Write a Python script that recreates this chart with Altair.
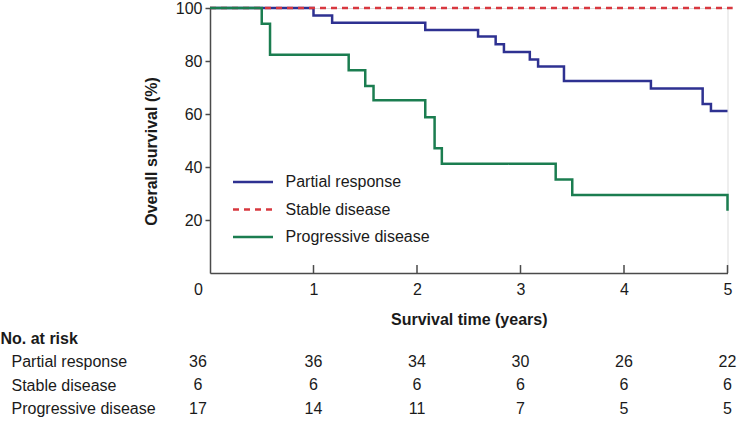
import altair as alt
import pandas as pd

# ---------------- data ----------------
groups = ["Partial response", "Stable disease", "Progressive disease"]
colors = ["#2e3191", "#d8383f", "#1b7d50"]
dashes = [[1, 0], [6, 5], [1, 0]]

pr_time = [0, 1.00, 1.18, 2.08, 2.59, 2.76, 2.84, 3.09, 3.17, 3.42, 4.26, 4.76, 4.84, 5.00]
pr_surv = [100, 97.2, 94.4, 91.7, 89.2, 86.3, 83.4, 80.6, 77.9, 72.5, 69.6, 63.8, 61.1, 61.1]

sd_time = [0, 5.05]
sd_surv = [100, 100]

pd_time = [0, 0.50, 0.58, 1.34, 1.50, 1.58, 2.08, 2.17, 2.24, 3.34, 3.50, 5.00]
pd_surv = [100, 94.1, 82.4, 76.5, 70.6, 65.2, 58.8, 47.1, 41.2, 35.3, 29.4, 23.5]

risk_times = [0, 1, 2, 3, 4, 5]
pr_risk = [36, 36, 34, 30, 26, 22]
sd_risk = [6, 6, 6, 6, 6, 6]
pd_risk = [17, 14, 11, 7, 5, 5]

x_tick_values = [1, 2, 3, 4, 5]
x_label_values = [0, 1, 2, 3, 4, 5]
y_label_values = [20, 40, 60, 80, 100]

# ---------------- tables ----------------
rows = []
for g, ts, ss in zip(groups, [pr_time, sd_time, pd_time], [pr_surv, sd_surv, pd_surv]):
    for t, s in zip(ts, ss):
        rows.append({"time": t, "surv": s, "group": g})
curves = pd.DataFrame(rows)

rrows = []
for g, ns in zip(groups, [pr_risk, sd_risk, pd_risk]):
    for t, n in zip(risk_times, ns):
        rrows.append({"time": t, "group": g, "n": n})
risk = pd.DataFrame(rrows)

ticks_df = pd.DataFrame({"t": x_tick_values})

AX = "#4a4a4a"
TXT = "#1a1a1a"
FONT = "Liberation Sans"
W = 517.5
H = 265

xscale = alt.Scale(domain=[0, 5], nice=False, zero=True)
yscale = alt.Scale(domain=[0, 100], nice=False)

legend = alt.Legend(
    title=None, orient="none", legendX=31.5, legendY=162.5,
    symbolType="M-2,0L2,0", symbolSize=400, symbolStrokeWidth=2.5,
    labelFontSize=16, labelColor=TXT, labelFont=FONT, rowPadding=7.5,
    labelOffset=21, padding=0,
)

lines = alt.Chart(curves).mark_line(interpolate="step-after", strokeWidth=2.5, clip=False).encode(
    x=alt.X("time:Q", scale=xscale, axis=alt.Axis(
        values=x_label_values, format="d", title="Survival time (years)", grid=False,
        ticks=False, tickSize=0, labelPadding=8, labelFontSize=16, labelColor=TXT,
        labelFlush=False,
        labelOffset={"condition": {"test": "datum.value === 0", "value": -12}, "value": 0},
        titleFontSize=16, titleFontWeight="bold", titleColor=TXT, titlePadding=14,
        domainColor=AX, domainWidth=1.5, labelFont=FONT, titleFont=FONT,
    )),
    y=alt.Y("surv:Q", scale=yscale, axis=alt.Axis(
        values=y_label_values, title="Overall survival (%)", grid=False,
        tickSize=5, tickColor=AX, tickWidth=1.5, labelPadding=3, labelFontSize=16,
        labelColor=TXT, titleFontSize=16, titleFontWeight="bold", titleColor=TXT,
        titlePadding=16, titleY=143, domainColor=AX, domainWidth=1.5,
        labelFont=FONT, titleFont=FONT,
    )),
    color=alt.Color("group:N", scale=alt.Scale(domain=groups, range=colors), legend=legend),
    strokeDash=alt.StrokeDash("group:N", scale=alt.Scale(domain=groups, range=dashes), legend=legend),
)

xticks = alt.Chart(ticks_df).mark_rule(color=AX, strokeWidth=1.5).encode(
    x=alt.X("t:Q", scale=xscale),
    y=alt.datum(0),
    y2=alt.datum(3),
)

top = alt.layer(xticks, lines).properties(width=W, height=H)

base = alt.Chart(risk).encode(
    x=alt.X("time:Q", scale=xscale, axis=None),
    y=alt.Y("group:N", sort=groups, scale=alt.Scale(paddingInner=0, paddingOuter=0),
            axis=alt.Axis(title="No. at risk", titleAngle=0, titleAlign="left",
                          titleX=-210, titleY=-7, titleBaseline="alphabetic",
                          titleFontWeight="bold", titleFontSize=16, titleColor=TXT,
                          labelAlign="left", labelPadding=199, labelFontSize=16,
                          labelColor=TXT, ticks=False, tickSize=0, domain=False,
                          labelFont=FONT, titleFont=FONT)),
    text="n:Q",
)
nums0 = base.mark_text(fontSize=16, dx=-12, color=TXT, font=FONT).transform_filter("datum.time == 0")
nums = base.mark_text(fontSize=16, color=TXT, font=FONT).transform_filter("datum.time > 0")
table = alt.layer(nums0, nums).properties(width=W, height=70.5, view=alt.ViewBackground(strokeOpacity=0, strokeWidth=0))

chart = alt.vconcat(top, table, spacing=2).resolve_scale(
    x="independent", y="independent", color="independent", strokeDash="independent"
).properties(
    padding={"left": 0, "top": -1, "right": 0, "bottom": 0}
).configure_view(strokeOpacity=0, strokeWidth=0).configure(font=FONT)

chart.save("out.html", embed_options={"renderer": "svg", "actions": False})
